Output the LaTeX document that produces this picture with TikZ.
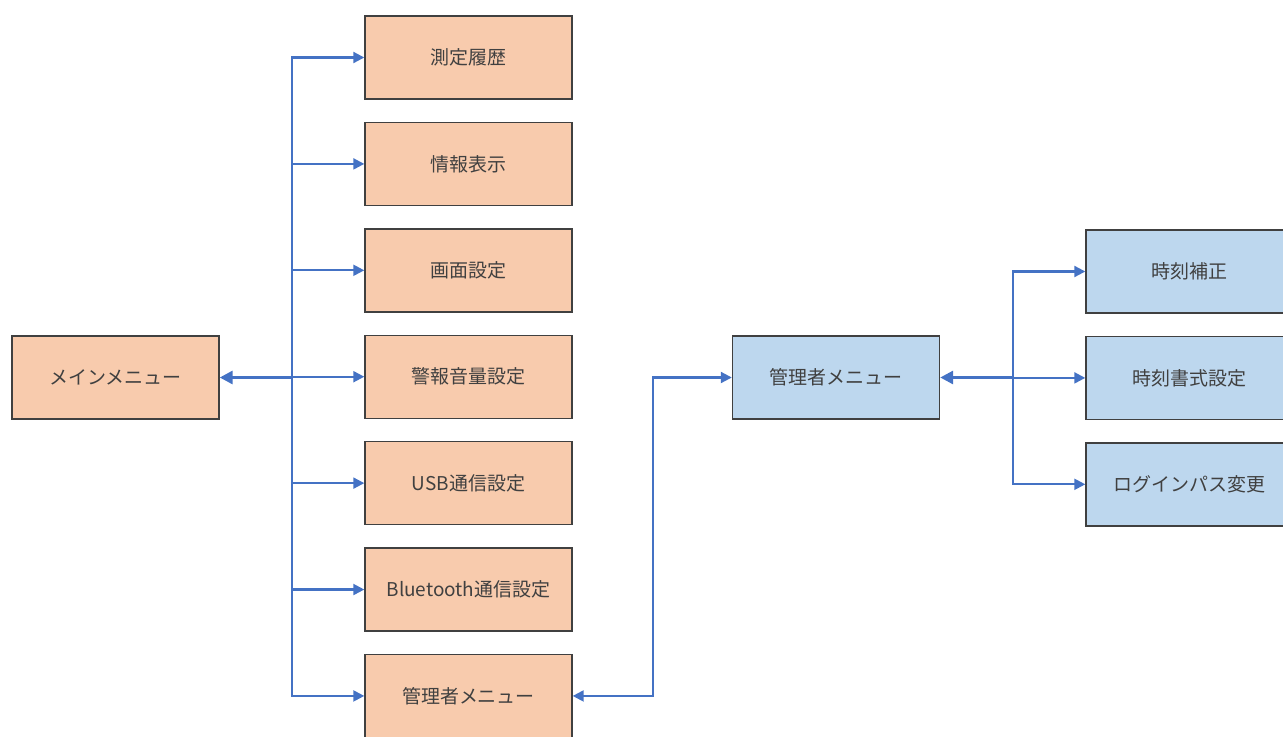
\documentclass[tikz,border=0pt]{standalone}
\usepackage{fontspec}
\setmainfont{Noto Sans CJK JP}
\usepackage{xcolor}
\usepackage{tikz}
\usetikzlibrary{positioning, calc, arrows.meta}
\definecolor{mnOrange}{RGB}{248, 203, 173}
\definecolor{mnBlue}{RGB}{189, 215, 238}
\definecolor{mnEdge}{RGB}{64, 64, 64}
\definecolor{mnLink}{RGB}{68, 114, 196}
\definecolor{mnText}{RGB}{64, 64, 64}
\tikzset{
    base/.style={
        font=\fontsize{10.8pt}{13pt}\selectfont,
        align=center,
        text=mnText
    },
    menubox/.style={
        base,
        rectangle,
        draw=mnEdge,
        line width=0.8pt,
        minimum width=4.14cm,
        minimum height=1.66cm,
        inner sep=0pt
    },
    usermenu/.style={
        menubox,
        fill=mnOrange
    },
    adminmenu/.style={
        menubox,
        fill=mnBlue
    },
    flow/.style={
        -{Triangle[length=2.2mm, width=2.2mm]},
        line width=1.2pt,
        color=mnLink
    },
    back/.style={
        {Triangle[length=2.6mm, width=2.6mm]}-,
        line width=1.7pt,
        color=mnLink
    }
}

\begin{document}
\begin{tikzpicture}[node distance=0.44cm]
  \useasboundingbox (0,0) rectangle (25.66,-14.72);

  % main menu and its children
  \node[usermenu] (main) at (2.31,-7.55) {メインメニュー};
  \node[usermenu] (history) at (9.37,-1.15) {測定履歴};
  \node[usermenu, below=of history] (info) {情報表示};
  \node[usermenu, below=of info] (screen) {画面設定};
  \node[usermenu, below=of screen] (alarm) {警報音量設定};
  \node[usermenu, below=of alarm] (usb) {USB通信設定};
  \node[usermenu, below=of usb] (bt) {Bluetooth通信設定};
  \node[usermenu, below=of bt] (admin) {管理者メニュー};

  \coordinate (trunk) at (5.84,-7.55);
  \draw[back] (main.east) -- (trunk);
  \foreach \item in {history, info, screen, alarm, usb, bt, admin}
    \draw[flow] (trunk) |- (\item.west);

  % administrator menu
  \node[adminmenu] (manager) at (16.72,-7.55) {管理者メニュー};
  \node[adminmenu] (clock) at (23.79,-5.43) {時刻補正};
  \node[adminmenu, below=of clock] (format) {時刻書式設定};
  \node[adminmenu, below=of format] (password) {ログインパス変更};

  \draw[flow, {Triangle[length=2.2mm, width=2.2mm]}-{Triangle[length=2.2mm, width=2.2mm]}]
    (admin.east) -- ++(1.6,0) |- (manager.west);

  \coordinate (branch) at (20.26,-7.55);
  \draw[back] (manager.east) -- (branch);
  \foreach \item in {clock, format, password}
    \draw[flow] (branch) |- (\item.west);
\end{tikzpicture}
\end{document}
